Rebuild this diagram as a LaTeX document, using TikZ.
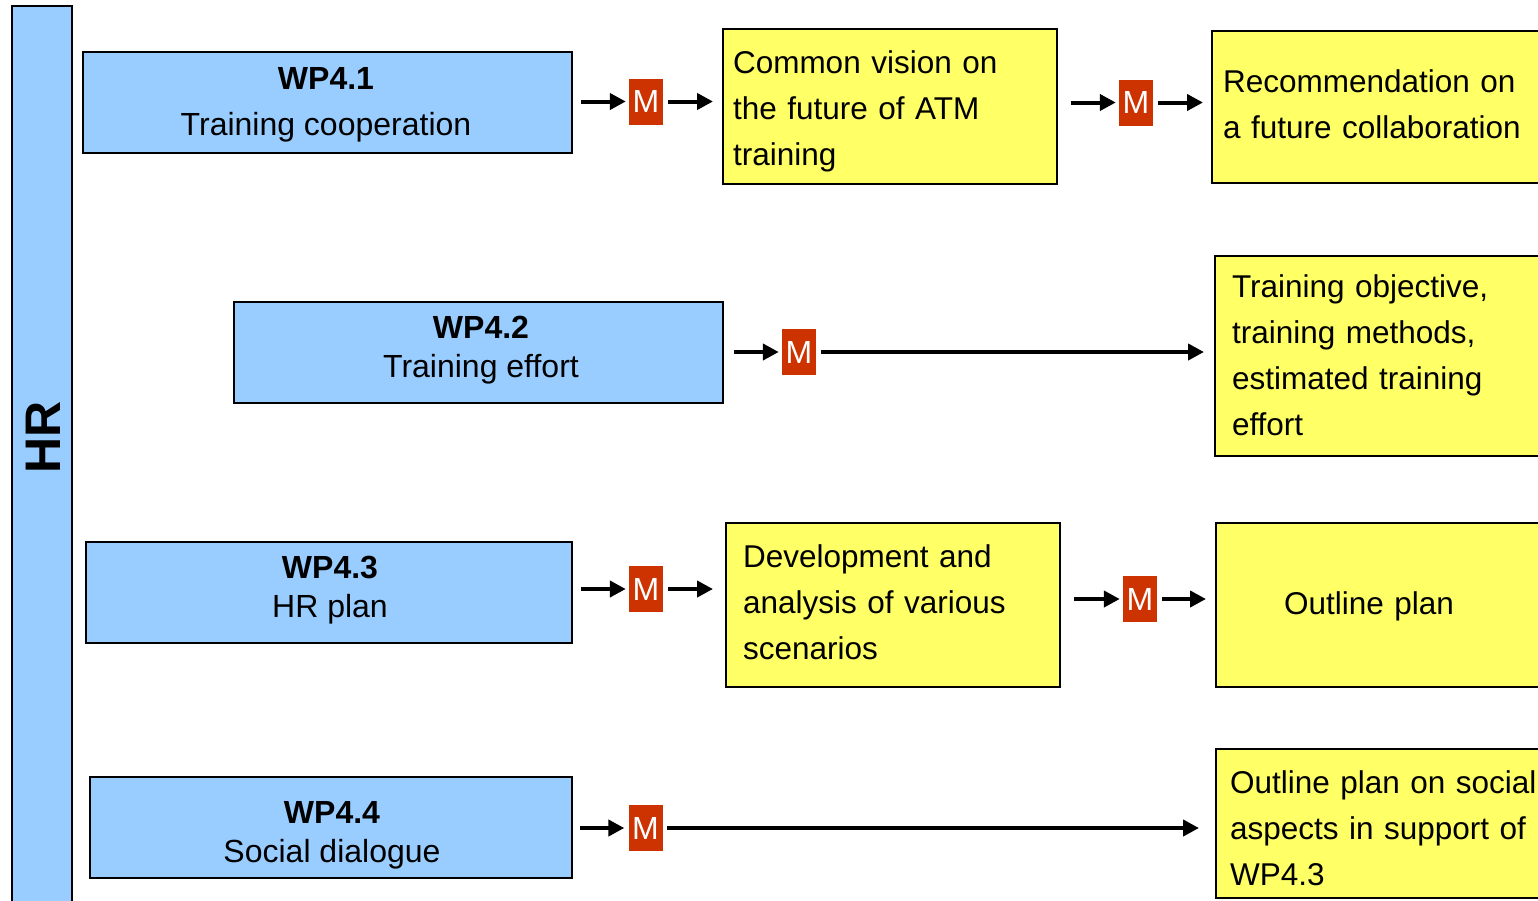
\documentclass[tikz,border=0pt]{standalone}
\usepackage{fontspec}
\setmainfont{Liberation Sans}
\usetikzlibrary{arrows.meta}
\definecolor{wpblue}{HTML}{99CCFF}
\definecolor{outyellow}{HTML}{FFFF66}
\definecolor{mred}{HTML}{CC3300}
\begin{document}
\begin{tikzpicture}[x=1pt,y=-1pt,
  bbox/.style={draw=black, line width=2pt, fill=wpblue, inner sep=0pt},
  btext/.style={align=center, inner sep=0pt},
  ybox/.style={draw=black, line width=2pt, fill=outyellow, inner sep=0pt},
  ytext/.style={inner sep=0pt, align=left, font=\fontsize{31.5}{46}\selectfont},
  mbox/.style={fill=mred, text=white, minimum width=34pt, minimum height=46pt, inner sep=0pt, font=\fontsize{32}{32}\selectfont},
  arr/.style={line width=4pt, -{Triangle[length=16pt,width=16pt]}},
]
\useasboundingbox (0,0) rectangle (1538,900);
\clip (0,0) rectangle (1538,900);
\fill[white] (0,0) rectangle (1538,900);

% HR bar
\node[bbox, minimum width=60pt, minimum height=920pt] (hr) at (42,466) {};
\node[font=\bfseries\fontsize{50}{50}\selectfont, rotate=90, inner sep=0pt] (hrt) at (43,437) {HR};

% work packages
\node[bbox, minimum width=489pt, minimum height=101pt] (wp1) at (327.5,102.5) {};
\node[btext, font=\fontsize{32}{46}\selectfont] (wp1t) at (326,104.5) {\textbf{WP4.1}\\Training cooperation};
\node[bbox, minimum width=489pt, minimum height=101pt] (wp2) at (478.5,352.5) {};
\node[btext, font=\fontsize{32}{39}\selectfont] (wp2t) at (481,350) {\textbf{WP4.2}\\Training effort};
\node[bbox, minimum width=486pt, minimum height=101pt] (wp3) at (329,592.5) {};
\node[btext, font=\fontsize{32}{39}\selectfont] (wp3t) at (330,590) {\textbf{WP4.3}\\HR plan};
\node[bbox, minimum width=482pt, minimum height=101pt] (wp4) at (331,827.5) {};
\node[btext, font=\fontsize{32}{39}\selectfont] (wp4t) at (332,835) {\textbf{WP4.4}\\Social dialogue};

% outputs
\node[ybox, minimum width=334pt, minimum height=155pt] (y1) at (890,106.5) {};
\node[ytext, text width=314pt] (y1t) at (890,111) {Common vision on\\the future of ATM\\training};
\node[ybox, minimum width=348pt, minimum height=152pt] (y2) at (1386,107) {};
\node[ytext, text width=326pt] (y2t) at (1386,104) {Recommendation on\\a future collaboration};
\node[ybox, minimum width=345pt, minimum height=200pt] (y3) at (1387.5,356) {};
\node[ytext, text width=311pt] (y3t) at (1387.5,355.5) {Training objective,\\training methods,\\estimated training\\effort};
\node[ybox, minimum width=334pt, minimum height=164pt] (y4) at (893,605) {};
\node[ytext, text width=300pt] (y4t) at (893,602) {Development and\\analysis of various\\scenarios};
\node[ybox, minimum width=344pt, minimum height=164pt] (y5) at (1388,605) {};
\node[ytext, text width=208pt] (y5t) at (1388,606) {Outline plan};
\node[ybox, minimum width=344pt, minimum height=149pt] (y6) at (1388,823.5) {};
\node[ytext, text width=316pt] (y6t) at (1388,828.5) {Outline plan on social\\aspects in support of\\WP4.3};

% milestones
\node[mbox] (m1) at (646,101.5) {M};
\node[mbox] (m2) at (1136,102.5) {M};
\node[mbox] (m3) at (799,352) {M};
\node[mbox] (m4) at (646,589) {M};
\node[mbox] (m5) at (1140,599) {M};
\node[mbox] (m6) at (645.5,828) {M};

% connectors
\draw[arr, shorten <=8pt, shorten >=3pt] (wp1.east |- m1) -- (m1.west);
\draw[arr, shorten <=5pt, shorten >=9pt] (m1.east) -- (m1.east -| y1.west);
\draw[arr, shorten <=13pt, shorten >=3pt] (y1.east |- m2) -- (m2.west);
\draw[arr, shorten <=5pt, shorten >=8pt] (m2.east) -- (m2.east -| y2.west);

\draw[arr, shorten <=10pt, shorten >=3pt] (wp2.east |- m3) -- (m3.west);
\draw[arr, shorten <=5pt, shorten >=10pt] (m3.east) -- (m3.east -| y3.west);

\draw[arr, shorten <=8pt, shorten >=3pt] (wp3.east |- m4) -- (m4.west);
\draw[arr, shorten <=5pt, shorten >=12pt] (m4.east) -- (m4.east -| y4.west);
\draw[arr, shorten <=13pt, shorten >=3pt] (y4.east |- m5) -- (m5.west);
\draw[arr, shorten <=5pt, shorten >=9pt] (m5.east) -- (m5.east -| y5.west);

\draw[arr, shorten <=7pt, shorten >=4pt] (wp4.east |- m6) -- (m6.west);
\draw[arr, shorten <=4pt, shorten >=16pt] (m6.east) -- (m6.east -| y6.west);
\end{tikzpicture}
\end{document}
